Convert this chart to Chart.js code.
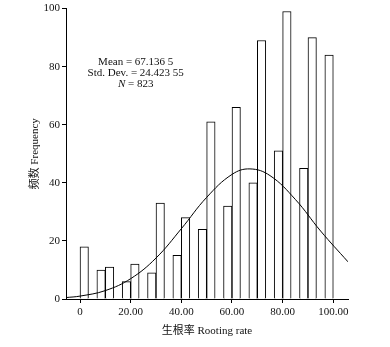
<!DOCTYPE html>
<html>
<head>
<meta charset="utf-8">
<script src="https://cdn.jsdelivr.net/npm/chart.js@4/dist/chart.umd.min.js"></script>
<style>
  html, body { margin: 0; padding: 0; background: #fff; }
  #wrap { width: 390px; height: 347px; }
</style>
</head>
<body>
<div id="wrap"><canvas id="histChart" width="390" height="347"></canvas></div>
<script>
// bin centres (rooting rate, bins of 3.33)
const binCenters = [1.67, 5.00, 8.33, 11.67, 15.00, 18.33, 21.67, 25.00, 28.33, 31.67,
                    35.00, 38.33, 41.67, 45.00, 48.33, 51.67, 55.00, 58.33, 61.67, 65.00,
                    68.33, 71.67, 75.00, 78.33, 81.67, 85.00, 88.33, 91.67, 95.00, 98.33];
const frequency = [18, 0, 10, 11, 0, 6, 12, 0, 9, 33,
                   0, 15, 28, 0, 24, 61, 0, 32, 66, 0,
                   40, 89, 0, 51, 99, 0, 45, 90, 0, 84];

// normal curve
const curveX = [-5.5, 0, 10, 20, 30, 40, 50, 60, 67.1, 75, 85, 95, 105.8];
const curveY = [0.5, 1.0, 2.9, 7.0, 14.1, 24.2, 35.0, 42.9, 44.8, 42.5, 34.3, 23.4, 12.8];

const xTickValues = [0, 20, 40, 60, 80, 100];
const xTickLabels = ['0', '20.00', '40.00', '60.00', '80.00', '100.00'];
const yTickValues = [0, 20, 40, 60, 80, 100];

const statLines = ['Mean = 67.136 5', 'Std. Dev. = 24.423 55', 'N = 823'];

const serif = '"Liberation Serif", "Times New Roman", "Noto Sans CJK SC", serif';

const statsText = {
    id: 'statsText',
    afterDraw(chart) {
        const ctx = chart.ctx;
        const x = chart.scales.x.getPixelForValue(22);
        let y = chart.scales.y.getPixelForValue(81.7);
        ctx.save();
        ctx.fillStyle = '#111';
        ctx.font = '11px ' + serif;
        ctx.textBaseline = 'middle';
        ctx.textAlign = 'center';
        ctx.fillText(statLines[0], x, y);
        y += 11;
        ctx.fillText(statLines[1], x, y);
        y += 11;
        // italic N
        const parts = statLines[2].split(' ');
        const first = parts[0];
        const rest = ' ' + parts.slice(1).join(' ');
        ctx.font = 'italic 11px ' + serif;
        const w1 = ctx.measureText(first).width;
        ctx.font = '11px ' + serif;
        const w2 = ctx.measureText(rest).width;
        const start = x - (w1 + w2) / 2;
        ctx.textAlign = 'left';
        ctx.font = 'italic 11px ' + serif;
        ctx.fillText(first, start, y);
        ctx.font = '11px ' + serif;
        ctx.fillText(rest, start + w1, y);
        ctx.restore();
    }
};

new Chart(document.getElementById('histChart'), {
    type: 'bar',
    data: {
        datasets: [{
            type: 'line',
            data: curveX.map((v, i) => ({ x: v, y: curveY[i] })),
            borderColor: '#000',
            borderWidth: 1,
            pointRadius: 0,
            tension: 0.4,
            fill: false
        }, {
            type: 'bar',
            data: binCenters.map((v, i) => ({ x: v, y: frequency[i] })),
            backgroundColor: '#fff',
            borderColor: '#000',
            borderWidth: 1,
            barPercentage: 1,
            categoryPercentage: 1
        }]
    },
    options: {
        responsive: false,
        animation: false,
        layout: { padding: { top: 8, right: 42, left: 0, bottom: 0 } },
        plugins: {
            legend: { display: false },
            tooltip: { enabled: false }
        },
        scales: {
            x: {
                type: 'linear',
                offset: false,
                min: -5.53,
                max: 105.8,
                afterFit: (s) => { s.height = 48; },
                afterBuildTicks: (s) => { s.ticks = xTickValues.map(v => ({ value: v })); },
                border: { color: '#000', width: 1 },
                grid: { drawOnChartArea: false, offset: false, tickLength: 4, color: '#000' },
                ticks: {
                    color: '#111',
                    padding: 3,
                    maxRotation: 0,
                    autoSkip: false,
                    font: { family: serif, size: 11 },
                    callback: (v) => xTickLabels[xTickValues.indexOf(v)]
                },
                title: {
                    display: true,
                    text: '生根率 Rooting rate',
                    color: '#111',
                    font: { family: serif, size: 11 },
                    padding: { top: 0, bottom: 9.4 }
                }
            },
            y: {
                min: 0,
                max: 100,
                afterFit: (s) => { s.width = 66; },
                afterBuildTicks: (s) => { s.ticks = yTickValues.map(v => ({ value: v })); },
                border: { color: '#000', width: 1 },
                grid: { drawOnChartArea: false, tickLength: 4, color: '#000' },
                ticks: {
                    color: '#111',
                    padding: 2,
                    font: { family: serif, size: 11 }
                },
                title: {
                    display: true,
                    text: '频数 Frequency',
                    color: '#111',
                    font: { family: serif, size: 11 },
                    padding: { top: 28.4, bottom: 0 }
                }
            }
        }
    },
    plugins: [statsText]
});
</script>
</body>
</html>
